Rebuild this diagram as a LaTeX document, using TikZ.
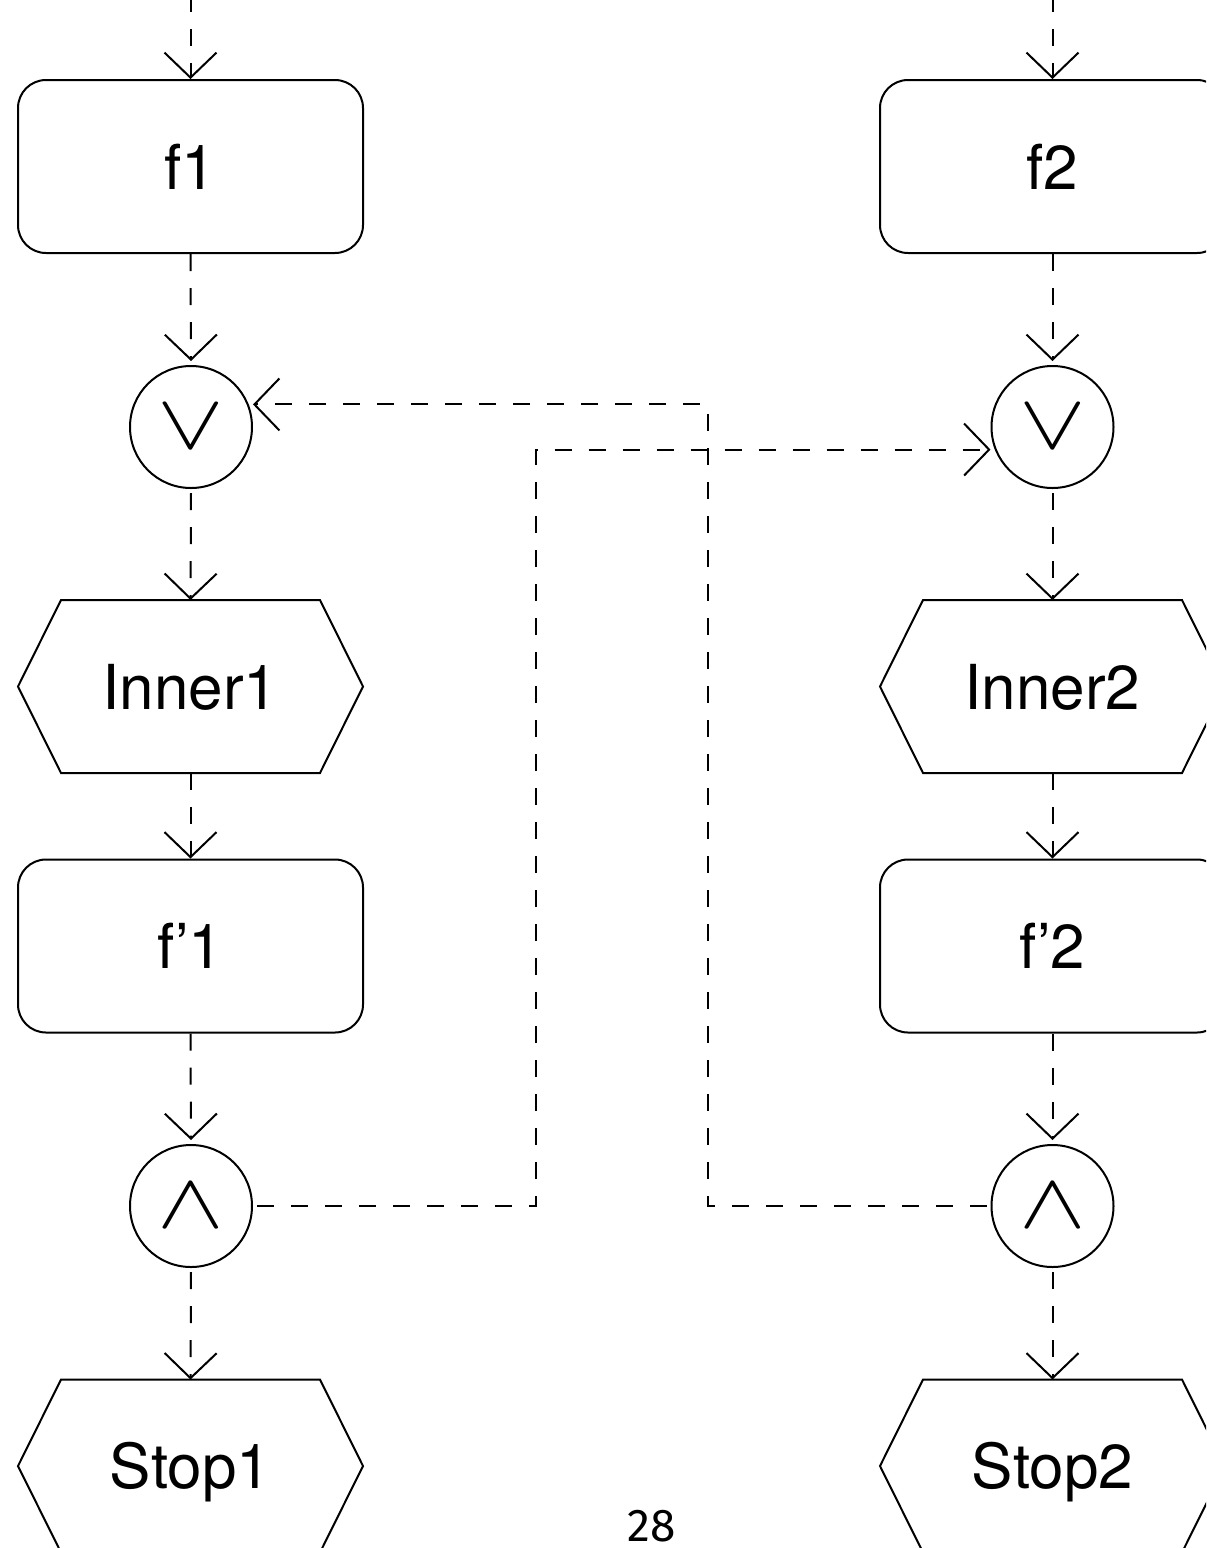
\documentclass[tikz,border=0pt]{standalone}
\usepackage{fontspec}
\usepackage{graphicx}
\setmainfont{TeX Gyre Heros}
\newfontfamily\pagefont{Fira Sans}
\usetikzlibrary{arrows.meta}
\tikzset{
  boxnode/.style={draw, line width=1pt, rounded corners=14pt, minimum width=172.5pt, minimum height=86.5pt,
    inner sep=0pt, font=\fontsize{31}{31}\selectfont, text height=22.5pt, text depth=0pt},
  hexnode/.style={minimum width=172.5pt, minimum height=86.5pt, inner sep=0pt, outer sep=0pt,
    font=\fontsize{31}{31}\selectfont, text height=22.5pt, text depth=0pt},
  gate/.style={draw, line width=1pt, circle, minimum size=61pt, inner sep=0pt, outer sep=2.5pt},
  flow/.style={line width=1pt, dash pattern=on 8.5pt off 8.5pt, -{Straight Barb[length=12.5pt,width=26pt]}},
  link/.style={line width=1pt, dash pattern=on 8.5pt off 8.5pt},
  hexline/.style={draw, line width=1pt, line join=miter}
}
\newcommand\myhex[1]{\path[hexline] (#1.west) -- ([xshift=21.5pt]#1.north west) -- ([xshift=-21.5pt]#1.north east)
  -- (#1.east) -- ([xshift=-21.5pt]#1.south east) -- ([xshift=21.5pt]#1.south west) -- cycle;}
\newcommand\orsym{\scalebox{5}[3.9]{$\vee$}}
\newcommand\andsym{\scalebox{5}[3.9]{$\wedge$}}
\begin{document}
\begin{tikzpicture}[x=0.5pt,y=-0.5pt]
\useasboundingbox (0,0) rectangle (1206,1548);
\clip (0,0) rectangle (1206,1548);
% left column
\coordinate (t1) at (190.5,-5);
\node[boxnode] (f1) at (190.5,166.5) {f1};
\node[gate] (vL) at (191,427) {\orsym};
\node[hexnode] (i1) at (190.5,686.5) {Inner1};
\node[boxnode] (fp1) at (190.5,946) {f’1};
\node[gate] (aL) at (191,1206) {\andsym};
\node[hexnode] (s1) at (190.5,1466) {Stop1};
% right column
\coordinate (t2) at (1052.5,-5);
\node[boxnode] (f2) at (1052.5,166.5) {f2};
\node[gate] (vR) at (1052.5,427) {\orsym};
\node[hexnode] (i2) at (1052.5,686.5) {Inner2};
\node[boxnode] (fp2) at (1052.5,946) {f’2};
\node[gate] (aR) at (1052.5,1206) {\andsym};
\node[hexnode] (s2) at (1052.5,1466) {Stop2};
\myhex{i1}\myhex{s1}\myhex{i2}\myhex{s2}
% page number
\node[font=\pagefont\fontsize{23}{23}\selectfont, anchor=base, inner sep=0pt] (pg) at (652,1541) {28};
% vertical flows
\draw[flow] (t1) -- (f1.north);
\draw[flow] (f1.south) -- (vL.north);
\draw[flow] (vL.south) -- (i1.north);
\draw[flow] (i1.south) -- (fp1.north);
\draw[flow] (fp1.south) -- (aL.north);
\draw[flow] (aL.south) -- (s1.north);
\draw[flow] (t2) -- (f2.north);
\draw[flow] (f2.south) -- (vR.north);
\draw[flow] (vR.south) -- (i2.north);
\draw[flow] (i2.south) -- (fp2.north);
\draw[flow] (fp2.south) -- (aR.north);
\draw[flow] (aR.south) -- (s2.north);
% cross links
\coordinate (k1) at (708,0);
\coordinate (k2) at (536,0);
\draw[flow] (aR.west) -| (k1 |- vL.20) -- (vL.20);
\draw[flow] (aL.east) -| (k2 |- vR.200) -- (vR.200);
\end{tikzpicture}
\end{document}
